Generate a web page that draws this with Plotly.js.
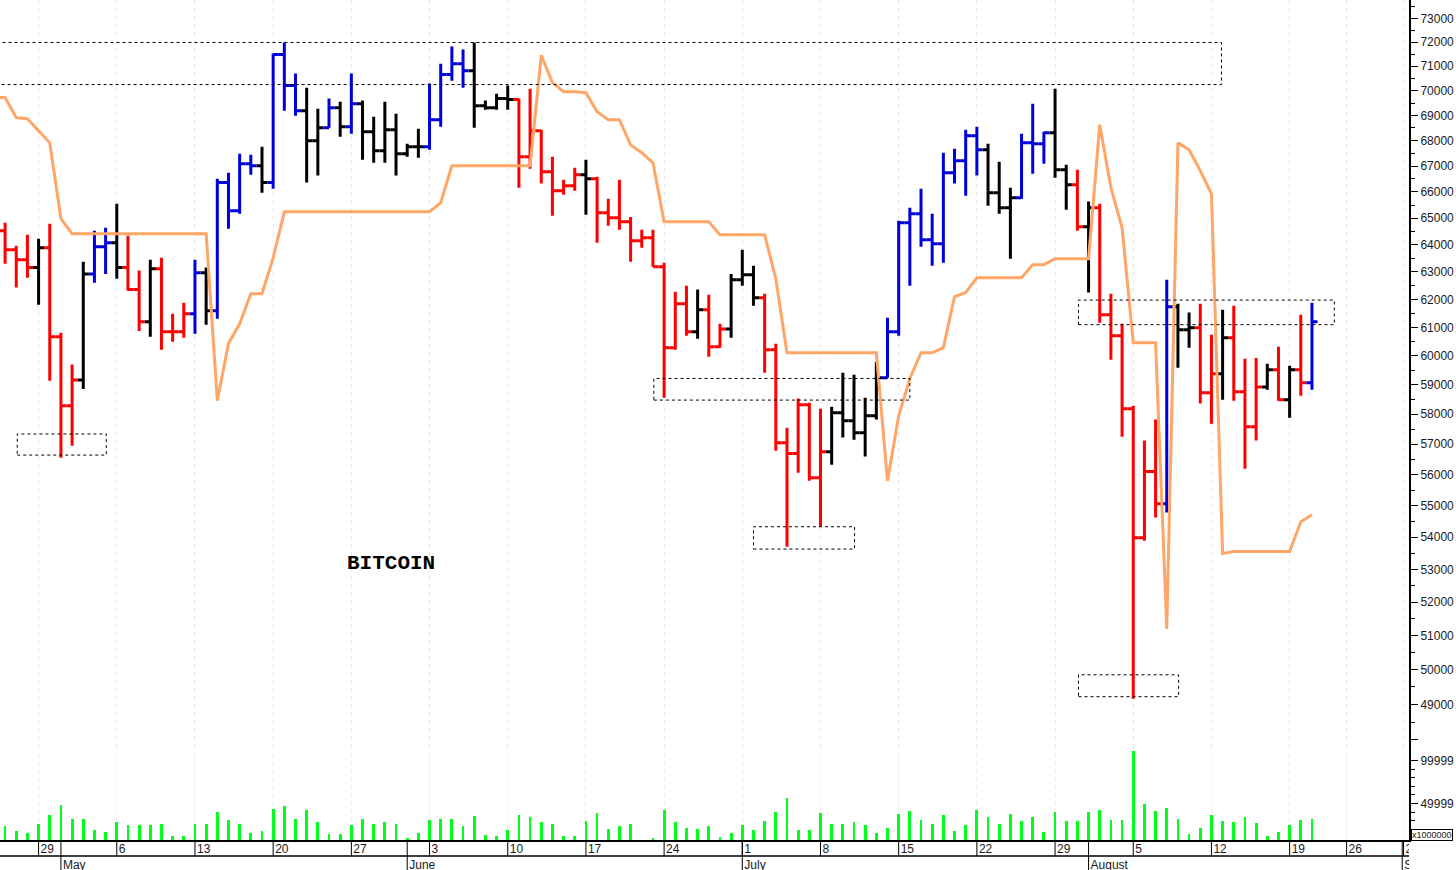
<!DOCTYPE html>
<html>
<head>
<meta charset="utf-8">
<script src="https://cdn.plot.ly/plotly-3.0.1.min.js"></script>
<style>
  html, body { margin: 0; padding: 0; background: #fff; overflow: hidden; }
</style>
</head>
<body>
<div id="container" style="width:1456px;height:870px;"></div>
<script>
// daily bars, day 0 is 29 April, the first bar is three days before it
var firstDay = -3;

var opens = [64530, 63820, 63450, 63160, 63890, 60670, 58290, 59170, 62930, 63930,
  64080, 63160, 62360, 61200, 63120, 60850, 60850, 61490, 62970, 61600,
  66360, 65280, 67090, 67010, 66360, 71490, 70210, 69190, 67990, 68510,
  69310, 68550, 69470, 68350, 67600, 68430, 67480, 67760, 67760, 68830,
  70660, 71110, 70820, 69390, 69310, 69680, 69640, 67360, 68390, 66780,
  66050, 66240, 66660, 66510, 65210, 65020, 64870, 64150, 64270, 63190,
  60290, 61850, 60850, 61630, 60320, 60950, 62720, 62900, 62060, 60220,
  57050, 56690, 58320, 55900, 56750, 58050, 57780, 57380, 57950, 59240,
  60850, 64830, 65170, 64190, 64040, 66740, 67210, 68190, 67640, 65970,
  65400, 65780, 67910, 67870, 68310, 66860, 66280, 64680, 65400, 61450,
  60710, 58190, 53980, 56100, 55060, 61740, 60920, 60990, 58730, 59380,
  60640, 58760, 57580, 58930, 59520, 58490, 59520, 59070];

var highs = [64830, 63970, 64380, 64230, 64790, 60810, 59700, 63380, 64530, 64640,
  65550, 64340, 63050, 63450, 63520, 61490, 61880, 63450, 63160, 66510,
  66740, 67480, 67440, 67760, 71530, 71990, 70700, 70120, 69270, 69680,
  69550, 70700, 69600, 68950, 69550, 69070, 67870, 68470, 70290, 71110,
  71820, 71700, 71990, 69600, 69880, 70210, 69680, 70080, 68430, 67360,
  66470, 66930, 67250, 66590, 65740, 66470, 65050, 64570, 64570, 63340,
  62280, 62500, 62360, 62170, 61130, 62930, 63820, 63230, 62210, 60430,
  57550, 58530, 58390, 58190, 58250, 59420, 59350, 58560, 59800, 61350,
  64900, 65400, 66120, 65170, 67520, 67680, 68430, 68550, 67870, 67170,
  66160, 68270, 69470, 68350, 70080, 67050, 66860, 65630, 65550, 62210,
  61130, 58290, 57120, 57820, 62720, 61850, 61530, 61850, 60740, 61630,
  61780, 59900, 59930, 59730, 60320, 59660, 61450, 61880];

var lows = [63300, 62430, 62790, 61810, 59140, 56550, 56950, 58860, 62610, 62930,
  62750, 62320, 60880, 60670, 60220, 60500, 60640, 60780, 61100, 61310,
  64600, 65170, 66660, 65970, 66120, 69190, 68990, 66360, 66630, 68510,
  68150, 68270, 67250, 67130, 67130, 66630, 67360, 67320, 67640, 68550,
  70410, 70120, 68510, 69230, 69230, 69230, 66160, 66900, 66320, 65090,
  65890, 66050, 65130, 64080, 64720, 64570, 63380, 63890, 63190, 58560,
  60220, 60710, 60600, 59970, 60290, 60640, 62500, 61780, 59420, 56780,
  53700, 56060, 55800, 54330, 56320, 57220, 57150, 56590, 57820, 59240,
  60710, 62500, 63930, 63230, 63340, 66320, 65850, 66630, 65470, 65170,
  63490, 65740, 66700, 67090, 66550, 65320, 64530, 62250, 61170, 59870,
  57250, 49160, 53890, 54620, 54780, 59590, 60290, 58360, 57680, 58490,
  58460, 56190, 57120, 58830, 58460, 57880, 58630, 58830];

var closes = [63820, 63450, 63160, 63890, 60670, 58290, 59170, 62930, 63930, 64080,
  63160, 62360, 61200, 63120, 60850, 60850, 61490, 62970, 61600, 66360,
  65280, 67090, 67010, 66360, 71490, 70210, 69190, 67990, 68510, 69310,
  68550, 69470, 68350, 67600, 68430, 67480, 67760, 67760, 68830, 70660,
  71110, 70820, 69390, 69310, 69680, 69640, 67360, 68390, 66780, 66050,
  66240, 66660, 66510, 65210, 65020, 64870, 64150, 64270, 63190, 60290,
  61850, 60850, 61630, 60320, 60950, 62720, 62900, 62060, 60220, 57050,
  56690, 58320, 55900, 56750, 58050, 57780, 57380, 57950, 59240, 60850,
  64830, 65170, 64190, 64040, 66740, 67210, 68190, 67640, 65970, 65400,
  65780, 67910, 67870, 68310, 66860, 66280, 64680, 65400, 61450, 60710,
  58190, 53980, 56100, 55060, 61740, 60920, 60990, 58730, 59380, 60640,
  58760, 57580, 58930, 59520, 58490, 59520, 59070, 61200];

var barColors = ['r','r','r','k','r','r','r','k','b','b',
  'k','r','r','k','r','r','r','b','k','b',
  'b','b','b','k','b','b','b','k','k','b',
  'k','b','k','k','k','k','k','k','b','b',
  'b','b','k','k','k','k','r','r','r','r',
  'r','r','k','r','r','r','r','r','r','r',
  'r','r','k','r','r','k','k','k','r','r',
  'r','r','r','r','k','k','k','k','k','b',
  'b','b','b','b','b','b','b','b','k','k',
  'k','b','b','b','k','k','r','k','r','r',
  'r','r','r','r','b','k','k','r','r','k',
  'r','r','r','k','r','k','r','b'];

var guideFirstDay = -4;
var guide = [69720, 69720, 68910, 68870, 68390, 67910, 64980,
  64420, 64420, 64420, 64420, 64420, 64420, 64420, 64420, 64420, 64420, 64420, 64420, 64420,
  58460, 60430, 61130, 62210, 62210, 63520,
  65240, 65240, 65240, 65240, 65240, 65240, 65240, 65240, 65240, 65240, 65240, 65240, 65240, 65240,
  65590, 67010, 67010, 67010, 67010, 67010, 67010, 67010, 67010,
  71450, 70330, 69960, 69960, 69920, 69150, 68830, 68830, 67830, 67520, 67130,
  64870, 64870, 64870, 64870, 64870, 64380, 64380, 64380, 64380, 64380, 62750,
  60110, 60110, 60110, 60110, 60110, 60110, 60110, 60110, 60110,
  55800, 57950, 59210, 60110, 60110, 60290, 62100, 62250,
  62790, 62790, 62790, 62790, 62790, 63270, 63270, 63490, 63490, 63490, 63490,
  68630, 66160, 64640, 60460, 60460, 60460, 51200,
  67910, 67640, 66820, 65930, 53490,
  53550, 53550, 53550, 53550, 53550, 53550, 54490, 54710];

var volumes = [23300, 18600, 15500, 25600, 36900, 48500, 32200, 32200, 19400, 16700,
  28000, 24500, 24500, 24500, 26400, 12000, 12000, 26400, 26400, 39600,
  31100, 26400, 15900, 17900, 43900, 47400, 32200, 41900, 28000, 14800,
  14400, 24500, 32200, 25600, 28700, 26400, 10100, 15500, 31100, 32200,
  32200, 24100, 35700, 13600, 12000, 19400, 36900, 33800, 28000, 26400,
  12000, 12400, 29100, 39200, 20600, 24100, 25600, 7800, 10100, 42700,
  28000, 21700, 20600, 23300, 11300, 15900, 24500, 19400, 29100, 40400,
  55900, 19400, 19400, 39200, 26400, 25600, 28000, 24500, 15500, 21700,
  38000, 41500, 31100, 26400, 36900, 18300, 25200, 42300, 34500, 26400,
  38000, 29900, 33800, 17100, 40400, 29900, 29900, 40400, 42700, 31100,
  31100, 110600, 49700, 41500, 44600, 32200, 14000, 21400, 36900, 29100,
  28700, 34500, 27600, 12000, 17100, 24500, 31100, 32200];

var weekTicks = [0, 7, 14, 21, 28, 35, 42, 49, 56, 63, 70, 77, 84, 91, 98, 105, 112, 117.1, 122.2];
var weekLabels = ['29', '6', '13', '20', '27', '3', '10', '17', '24', '1', '8', '15', '22', '29', '5', '12', '19', '26', '2'];
var monthTicks = [2, 33, 63, 94, 122.08];
var monthLabels = ['May', 'June', 'July', 'August', 'S'];

var priceTicks = [73000, 72000, 71000, 70000, 69000, 68000, 67000, 66000, 65000, 64000, 63000, 62000, 61000,
  60000, 59000, 58000, 57000, 56000, 55000, 54000, 53000, 52000, 51000, 50000, 49000, 48000];
var priceLabels = ['73000', '72000', '71000', '70000', '69000', '68000', '67000', '66000', '65000', '64000', '63000', '62000', '61000',
  '60000', '59000', '58000', '57000', '56000', '55000', '54000', '53000', '52000', '51000', '50000', '49000', ''];
var priceMinor = [73500, 72500, 71500, 70500, 69500, 68500, 67500, 66500, 65500, 64500, 63500, 62500, 61500,
  60500, 59500, 58500, 57500, 56500, 55500, 54500, 53500, 52500, 51500, 50500, 49500, 48500];
var volumeTicks = [99999, 49999];
var volumeMinor = [89999, 79999, 69999, 59999, 39999, 29999, 19999];

// dashed boxes: left day, right day, top price, bottom price
var boxLeft = [-6, -1.91, 55.08, 64, 93.1, 93.1];
var boxRight = [105.9, 6.06, 78, 73.05, 102.06, 116];
var boxTop = [71990, 57340, 59220, 54330, 49850, 61980];
var boxBottom = [70250, 56640, 58480, 53630, 49220, 61100];

var textFont = 'Liberation Sans, Arial, sans-serif';
var inkColor = '#1a1a1a';
var labelGap = 0.18;

var days = closes.map(function(c, i) { return firstDay + i; });
var guideDays = guide.map(function(c, i) { return guideFirstDay + i; });

function barTrace(code, color) {
    var t = {
        type: 'ohlc', x: [], open: [], high: [], low: [], close: [],
        xaxis: 'x', yaxis: 'y', tickwidth: 0.5, hoverinfo: 'skip',
        increasing: {line: {color: color, width: 3}},
        decreasing: {line: {color: color, width: 3}}
    };
    for (var i = 0; i < days.length; i++) {
        if (barColors[i] !== code) continue;
        t.x.push(days[i]);
        t.open.push(opens[i]);
        t.high.push(highs[i]);
        t.low.push(lows[i]);
        t.close.push(closes[i]);
    }
    return t;
}

var data = [
    barTrace('r', '#ff0000'),
    barTrace('k', '#000000'),
    barTrace('b', '#0000dc'),
    {
        type: 'scatter', mode: 'lines', x: guideDays, y: guide, xaxis: 'x', yaxis: 'y',
        line: {color: '#ffa666', width: 3}, hoverinfo: 'skip'
    },
    {
        type: 'bar', x: days, y: volumes, xaxis: 'x', yaxis: 'y2', width: 0.25,
        marker: {color: '#00ff1a', line: {width: 0}}, hoverinfo: 'skip'
    },
    // date strip under the chart, text is clipped at the axis end like the original
    {
        type: 'scatter', mode: 'text', x: weekTicks.map(function(v) { return v + labelGap; }),
        y: weekTicks.map(function() { return 20; }),
        text: weekLabels, textposition: 'middle right', xaxis: 'x2', yaxis: 'y3', cliponaxis: true,
        textfont: {family: textFont, size: 12, color: inkColor}, hoverinfo: 'skip'
    },
    {
        type: 'scatter', mode: 'text', x: monthTicks.map(function(v) { return v + labelGap; }),
        y: monthTicks.map(function() { return 4.5; }),
        text: monthLabels, textposition: 'middle right', xaxis: 'x2', yaxis: 'y3', cliponaxis: true,
        textfont: {family: textFont, size: 12, color: inkColor}, hoverinfo: 'skip'
    }
];

var shapes = [];
boxLeft.forEach(function(x0, i) {
    shapes.push({
        type: 'rect', xref: 'x', yref: 'y', x0: x0, x1: boxRight[i], y0: boxBottom[i], y1: boxTop[i],
        line: {color: '#000', width: 1, dash: '3px,3px'}, fillcolor: 'rgba(0,0,0,0)'
    });
});
// date strip rules
shapes.push({type: 'line', xref: 'paper', yref: 'paper', x0: 0, x1: 1, y0: 14 / 870, y1: 14 / 870, line: {color: '#000', width: 1.5}});
weekTicks.forEach(function(x) {
    shapes.push({type: 'line', xref: 'x', yref: 'paper', x0: x, x1: x, y0: 14 / 870, y1: 30 / 870, line: {color: '#000', width: 1}});
});
monthTicks.forEach(function(x) {
    shapes.push({type: 'line', xref: 'x', yref: 'paper', x0: x, x1: x, y0: 0, y1: 30 / 870, line: {color: '#000', width: 1}});
});

var layout = {
    width: 1456,
    height: 870,
    margin: {l: 0, r: 47, t: 0, b: 0},
    paper_bgcolor: '#fff',
    plot_bgcolor: '#fff',
    showlegend: false,
    hovermode: false,
    dragmode: false,
    bargap: 0,
    xaxis: {
        range: [-3.455, 122.687], anchor: 'y2', tickmode: 'array', tickvals: weekTicks,
        showticklabels: false, ticks: '', zeroline: false,
        showgrid: true, gridcolor: '#e8e8f0', griddash: '4px,4px', gridwidth: 1,
        showline: true, linecolor: '#000', linewidth: 1.5,
        rangeslider: {visible: false}
    },
    xaxis2: {
        matches: 'x', anchor: 'y3', showticklabels: false, ticks: '', showgrid: false, zeroline: false, showline: false
    },
    yaxis: {
        type: 'log', domain: [125 / 870, 1], range: [4.67995, 4.86799], side: 'right', anchor: 'x',
        tickmode: 'array', tickvals: priceTicks, ticktext: priceLabels,
        ticks: 'outside', ticklen: 7, tickcolor: '#000', tickwidth: 1,
        minor: {tickmode: 'array', tickvals: priceMinor, ticks: 'outside', ticklen: 4, tickcolor: '#000', tickwidth: 1, showgrid: false},
        tickfont: {family: textFont, size: 12, color: inkColor},
        showgrid: false, zeroline: false, showline: true, linecolor: '#000', linewidth: 2
    },
    yaxis2: {
        domain: [30 / 870, 125 / 870], range: [7570, 118040], side: 'right', anchor: 'x',
        tickmode: 'array', tickvals: volumeTicks, ticktext: ['99999', '49999'],
        ticks: 'outside', ticklen: 7, tickcolor: '#000', tickwidth: 1,
        minor: {tickmode: 'array', tickvals: volumeMinor, ticks: 'outside', ticklen: 4, tickcolor: '#000', tickwidth: 1, showgrid: false},
        tickfont: {family: textFont, size: 12, color: inkColor},
        showgrid: false, zeroline: false, showline: true, linecolor: '#000', linewidth: 2
    },
    yaxis3: {
        domain: [0, 30 / 870], range: [0, 30], anchor: 'x2', visible: false, fixedrange: true
    },
    shapes: shapes,
    annotations: [
        {
            text: '<b>BITCOIN</b>', xref: 'x', yref: 'y', x: 31.56, y: Math.log10(53170), showarrow: false,
            font: {family: 'Liberation Mono, monospace', size: 21, color: '#000'}
        },
        {
            text: 'x1000000', xref: 'paper', yref: 'paper', x: 1410.5 / 1409, y: 29.5 / 870,
            xanchor: 'left', yanchor: 'bottom', showarrow: false,
            font: {family: textFont, size: 9, color: inkColor},
            bgcolor: '#fff', bordercolor: '#000', borderwidth: 1, borderpad: 0
        }
    ]
};

Plotly.newPlot('container', data, layout, {displayModeBar: false, staticPlot: true});
</script>
</body>
</html>
